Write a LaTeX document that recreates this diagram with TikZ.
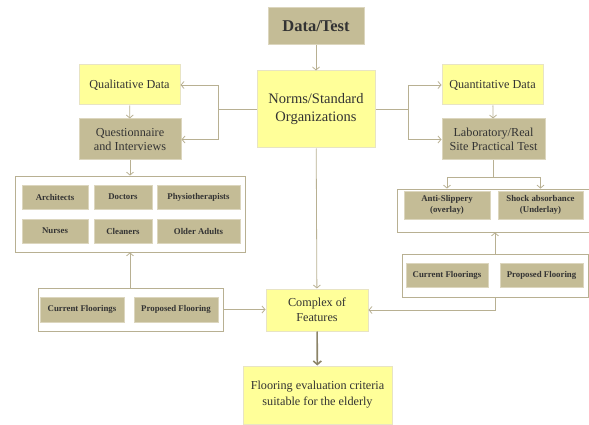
\documentclass[tikz,border=0pt]{standalone}
\usepackage{fontspec}
\setmainfont{Liberation Serif}
\usetikzlibrary{arrows.meta}
\definecolor{boxtan}{HTML}{C4BC96}
\definecolor{tanedge}{HTML}{DCD6BE}
\definecolor{boxyellow}{HTML}{FFFF99}
\definecolor{yellowedge}{HTML}{E8E4C4}
\definecolor{linetan}{HTML}{B8B092}
\definecolor{darktan}{HTML}{8C8468}
\definecolor{txtgray}{HTML}{333333}
\begin{document}
\begin{tikzpicture}[x=1pt,y=-1pt,
	tanbox/.style={fill=boxtan,draw=tanedge,line width=1pt,text=txtgray,align=center,inner sep=1pt},
	yellowbox/.style={fill=boxyellow,draw=yellowedge,line width=1pt,text=txtgray,align=center,inner sep=1pt},
	groupbox/.style={fill=white,draw=linetan,line width=0.8pt},
	midtext/.style={font=\fontsize{12.2}{14.5}\selectfont},
	smallbox/.style={tanbox,font=\fontsize{8.8}{10.5}\selectfont\bfseries},
	conn/.style={draw=linetan,line width=0.8pt,-{Straight Barb[length=3pt,width=7pt]}},
	plain/.style={draw=linetan,line width=0.8pt}]
	\useasboundingbox (0,0) rectangle (589,425);
	% top and centre column
	\node[tanbox,minimum width=96,minimum height=37,font=\fontsize{16.5}{18}\selectfont\bfseries] (data) at (316,26.5) {Data/Test};
	\node[yellowbox,minimum width=118,minimum height=77,font=\fontsize{14.5}{18}\selectfont] (norms) at (316,109.5) {Norms/Standard\\Organizations};
	\node[yellowbox,minimum width=102,minimum height=42,midtext] (complex) at (317,310) {Complex of\\Features};
	\node[yellowbox,minimum width=149,minimum height=58,midtext,font=\fontsize{12.2}{16}\selectfont] (final) at (317.5,395) {Flooring evaluation criteria\\suitable for the elderly};
	
	% left branch
	\node[yellowbox,minimum width=101,minimum height=40,midtext] (qual) at (129.5,85) {Qualitative Data};
	\node[tanbox,minimum width=102,minimum height=41,midtext] (quest) at (130,139.5) {Questionnaire\\and Interviews};
	\node[groupbox,minimum width=230,minimum height=76] (lgroup) at (130,214) {};
	\node[smallbox,minimum width=66,minimum height=24] (arch) at (55,197) {Architects};
	\node[smallbox,minimum width=58,minimum height=24] (doc) at (123,197) {Doctors};
	\node[smallbox,minimum width=83,minimum height=24] (physio) at (198.5,197) {Physiotherapists};
	\node[smallbox,minimum width=66,minimum height=24] (nurse) at (55,231) {Nurses};
	\node[smallbox,minimum width=58,minimum height=24] (clean) at (123,231) {Cleaners};
	\node[smallbox,minimum width=83,minimum height=24] (older) at (198.5,231) {Older Adults};
	\node[groupbox,minimum width=185,minimum height=43] (lfloor) at (130.5,309.5) {};
	\node[smallbox,minimum width=84,minimum height=25] (lcur) at (82,309.5) {Current Floorings};
	\node[smallbox,minimum width=84,minimum height=25] (lprop) at (176,309.5) {Proposed Flooring};
	
	% right branch
	\node[yellowbox,minimum width=101,minimum height=40,midtext] (quant) at (492.5,85) {Quantitative Data};
	\node[tanbox,minimum width=103,minimum height=41,midtext] (lab) at (493.5,139.5) {Laboratory/Real\\Site Practical Test};
	\node[groupbox,minimum width=196,minimum height=43] (rgroup) at (495,210.5) {};
	\node[smallbox,minimum width=86,minimum height=28,font=\fontsize{8.8}{11}\selectfont\bfseries] (anti) at (447,205) {Anti-Slippery\\(overlay)};
	\node[smallbox,minimum width=85,minimum height=28,font=\fontsize{8.8}{11}\selectfont\bfseries] (shock) at (540.5,205) {Shock absorbance\\(Underlay)};
	\node[groupbox,minimum width=186,minimum height=43] (rfloor) at (495,275.5) {};
	\node[smallbox,minimum width=82,minimum height=24] (rcur) at (447,275) {Current Floorings};
	\node[smallbox,minimum width=83,minimum height=24] (rprop) at (541.5,275) {Proposed Flooring};
	
	% connectors
	\draw[conn] (data) -- (norms);
	\draw[plain] (norms.west) -- ++(-38,0) coordinate (lsplit);
	\draw[conn] (lsplit) |- (qual.east);
	\draw[conn] (lsplit) |- (quest.east);
	\draw[plain] (norms.east) -- ++(33,0) coordinate (rsplit);
	\draw[conn] (rsplit) |- (quant.west);
	\draw[conn] (rsplit) |- (lab.west);
	\draw[conn] (qual) -- (quest);
	\draw[conn] (quant) -- (lab);
	\draw[conn] (quest.south) -- (quest.south |- lgroup.north);
	\draw[conn] (lfloor.north -| lgroup.south) -- (lgroup.south);
	\draw[conn] (lfloor.east) -- (lfloor.east -| complex.west);
	\draw[conn] (norms) -- (complex);
	\draw[draw=darktan,line width=1.6pt,-{Straight Barb[length=3.5pt,width=8pt]}] (complex) -- (final);
	\draw[plain] (lab.south) -- ++(0,16.5) coordinate (labsplit);
	\draw[conn] (labsplit) -| (anti.north |- rgroup.north);
	\draw[conn] (labsplit) -| (shock.north |- rgroup.north);
	\draw[conn] (rfloor.north) -- (rfloor.north |- rgroup.south);
	\draw[conn] (rfloor.south) |- (complex.east);
\end{tikzpicture}
\end{document}
